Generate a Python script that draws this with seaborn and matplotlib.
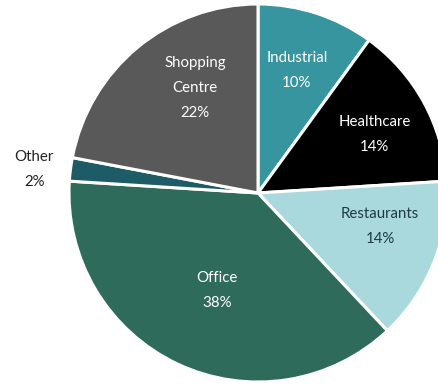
import matplotlib
matplotlib.use("Agg")
import matplotlib.pyplot as plt
import numpy as np
import seaborn as sns

sns.set_theme(style="white")
plt.rcParams["font.family"] = ["Lato", "DejaVu Sans"]

# Portfolio split by sector (share of total, %)
sectors = ["Industrial", "Healthcare", "Restaurants", "Office", "Other", "Shopping\nCentre"]
shares = [10, 14, 14, 38, 2, 22]
colors = ["#3795a0", "#000000", "#a9d9dd", "#2f6b5b", "#1d5b66", "#595959"]
text_colors = ["white", "white", "#1e3a44", "white", "#222222", "white"]

# label anchor (radius fraction, angle in degrees) per sector
label_pos = [(0.68, 72.4), (0.69, 26.6), (0.67, -15.2), (0.56, -112.9), (1.19, 174.1), (0.65, 120.9)]

fig = plt.figure(figsize=(4.38, 3.85), dpi=100)
ax = fig.add_axes([0, 0, 1, 1])
ax.axis("off")

wedges, _ = ax.pie(
    shares,
    colors=colors,
    startangle=90,
    counterclock=False,
    radius=1.0,
    wedgeprops=dict(edgecolor="white", linewidth=2.2),
)

for name, val, tc, (r, ang) in zip(sectors, shares, text_colors, label_pos):
    x = r * np.cos(np.radians(ang))
    y = r * np.sin(np.radians(ang))
    ax.text(x, y, f"{name}\n{val}%", ha="center", va="center", color=tc,
            fontsize=10.8, linespacing=2.0)

ax.set_xlim(-258 / 189, (438 - 258) / 189)
ax.set_ylim(-(385 - 193) / 189, 193 / 189)
ax.set_aspect("auto")

fig.savefig("out.png", dpi=100, facecolor="white")
